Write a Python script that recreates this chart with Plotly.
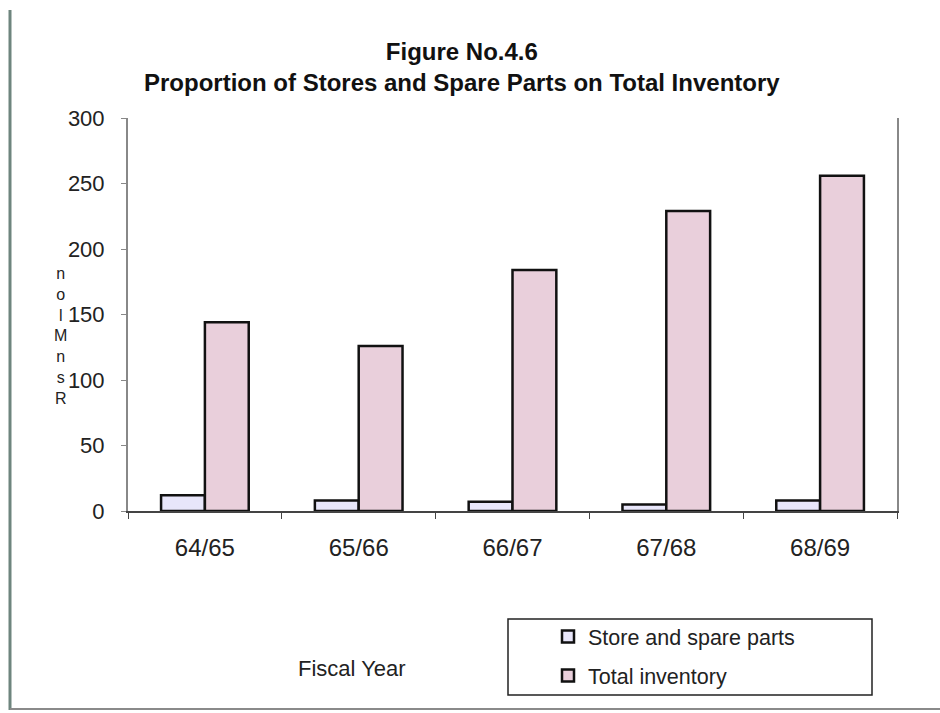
import plotly.graph_objects as go

# Fiscal years and inventory values (Rs. million)
years = ["64/65", "65/66", "66/67", "67/68", "68/69"]
store_spare = [12, 8, 7, 5, 8]
total_inventory = [144, 126, 184, 229, 256]

y_ticks = [0, 50, 100, 150, 200, 250, 300]

# Vertical axis caption, one glyph per line
y_caption = ["n", "o", "l", "M", "n", "s", "R"]

FONT = "Liberation Sans, Arial, sans-serif"

fig = go.Figure()

fig.add_trace(go.Bar(
    x=years, y=store_spare, name="Store and spare parts",
    marker=dict(color="#E8E6FA", line=dict(color="#111111", width=2.5)),
    legendgroup="a",
))
fig.add_trace(go.Bar(
    x=years, y=total_inventory, name="Total inventory",
    marker=dict(color="#E9CFDB", line=dict(color="#111111", width=2.5)),
    legendgroup="b",
))

L, R, T, B = 128, 43, 118, 202
W, H = 940, 713
pw, ph = W - L - R, H - T - B


def px(xp):
    return (xp - L) / pw


def py(yp):
    return (H - B - yp) / ph


fig.update_layout(
    width=W, height=H,
    margin=dict(l=L, r=R, t=T, b=B),
    paper_bgcolor="white", plot_bgcolor="white",
    barmode="group", bargap=0.43, bargroupgap=0,
    font=dict(family=FONT, color="#222222"),
    xaxis=dict(
        type="category", tickson="boundaries",
        ticks="outside", ticklen=6, tickcolor="#444444",
        tickfont=dict(size=24, color="#222222"), ticklabelstandoff=14,
        showline=True, linecolor="#444444", linewidth=2,
        showgrid=False, zeroline=False, range=[-0.5, 4.5],
    ),
    yaxis=dict(
        range=[0, 300], tickvals=y_ticks, ticks="outside", ticklen=5,
        tickcolor="#888888", ticklabelstandoff=12,
        tickfont=dict(size=22, color="#222222"),
        showline=True, linecolor="#888888", linewidth=2, mirror=True,
        showgrid=False, zeroline=False,
    ),
    legend=dict(
        x=px(548), y=py(616), xanchor="left", yanchor="top",
        bgcolor="rgba(0,0,0,0)", borderwidth=0,
        font=dict(size=21.5, color="#222222"),
        traceorder="grouped", tracegroupgap=8,
    ),
    showlegend=True,
)

# Two-line heading
fig.add_annotation(
    text="<b>Figure No.4.6<br>Proportion of Stores and Spare Parts on Total Inventory</b>",
    xref="paper", yref="paper",
    x=px(462), y=py(67), xanchor="center", yanchor="middle",
    showarrow=False, font=dict(size=24, color="#111111"))

# Legend frame
fig.add_shape(type="rect", xref="paper", yref="paper",
              x0=px(508), x1=px(872), y0=py(695), y1=py(619),
              line=dict(color="#222222", width=1.5))

# Page border lines
fig.add_shape(type="line", xref="paper", yref="paper",
              x0=px(10), x1=px(10), y0=py(10), y1=py(710),
              line=dict(color="#6E857E", width=3))
fig.add_shape(type="line", xref="paper", yref="paper",
              x0=px(10), x1=px(940), y0=py(709), y1=py(709),
              line=dict(color="#8A8A8A", width=2))

# Axis titles
fig.add_annotation(text="Fiscal Year", xref="paper", yref="paper",
                   x=px(352), y=py(668), xanchor="center", yanchor="middle",
                   showarrow=False, font=dict(size=22, color="#222222"))
fig.add_annotation(text="<br>".join(y_caption), xref="paper", yref="paper",
                   x=px(60), y=py(336), xanchor="center", yanchor="middle",
                   showarrow=False, font=dict(size=16, color="#222222"))

fig.write_html("out.html")
